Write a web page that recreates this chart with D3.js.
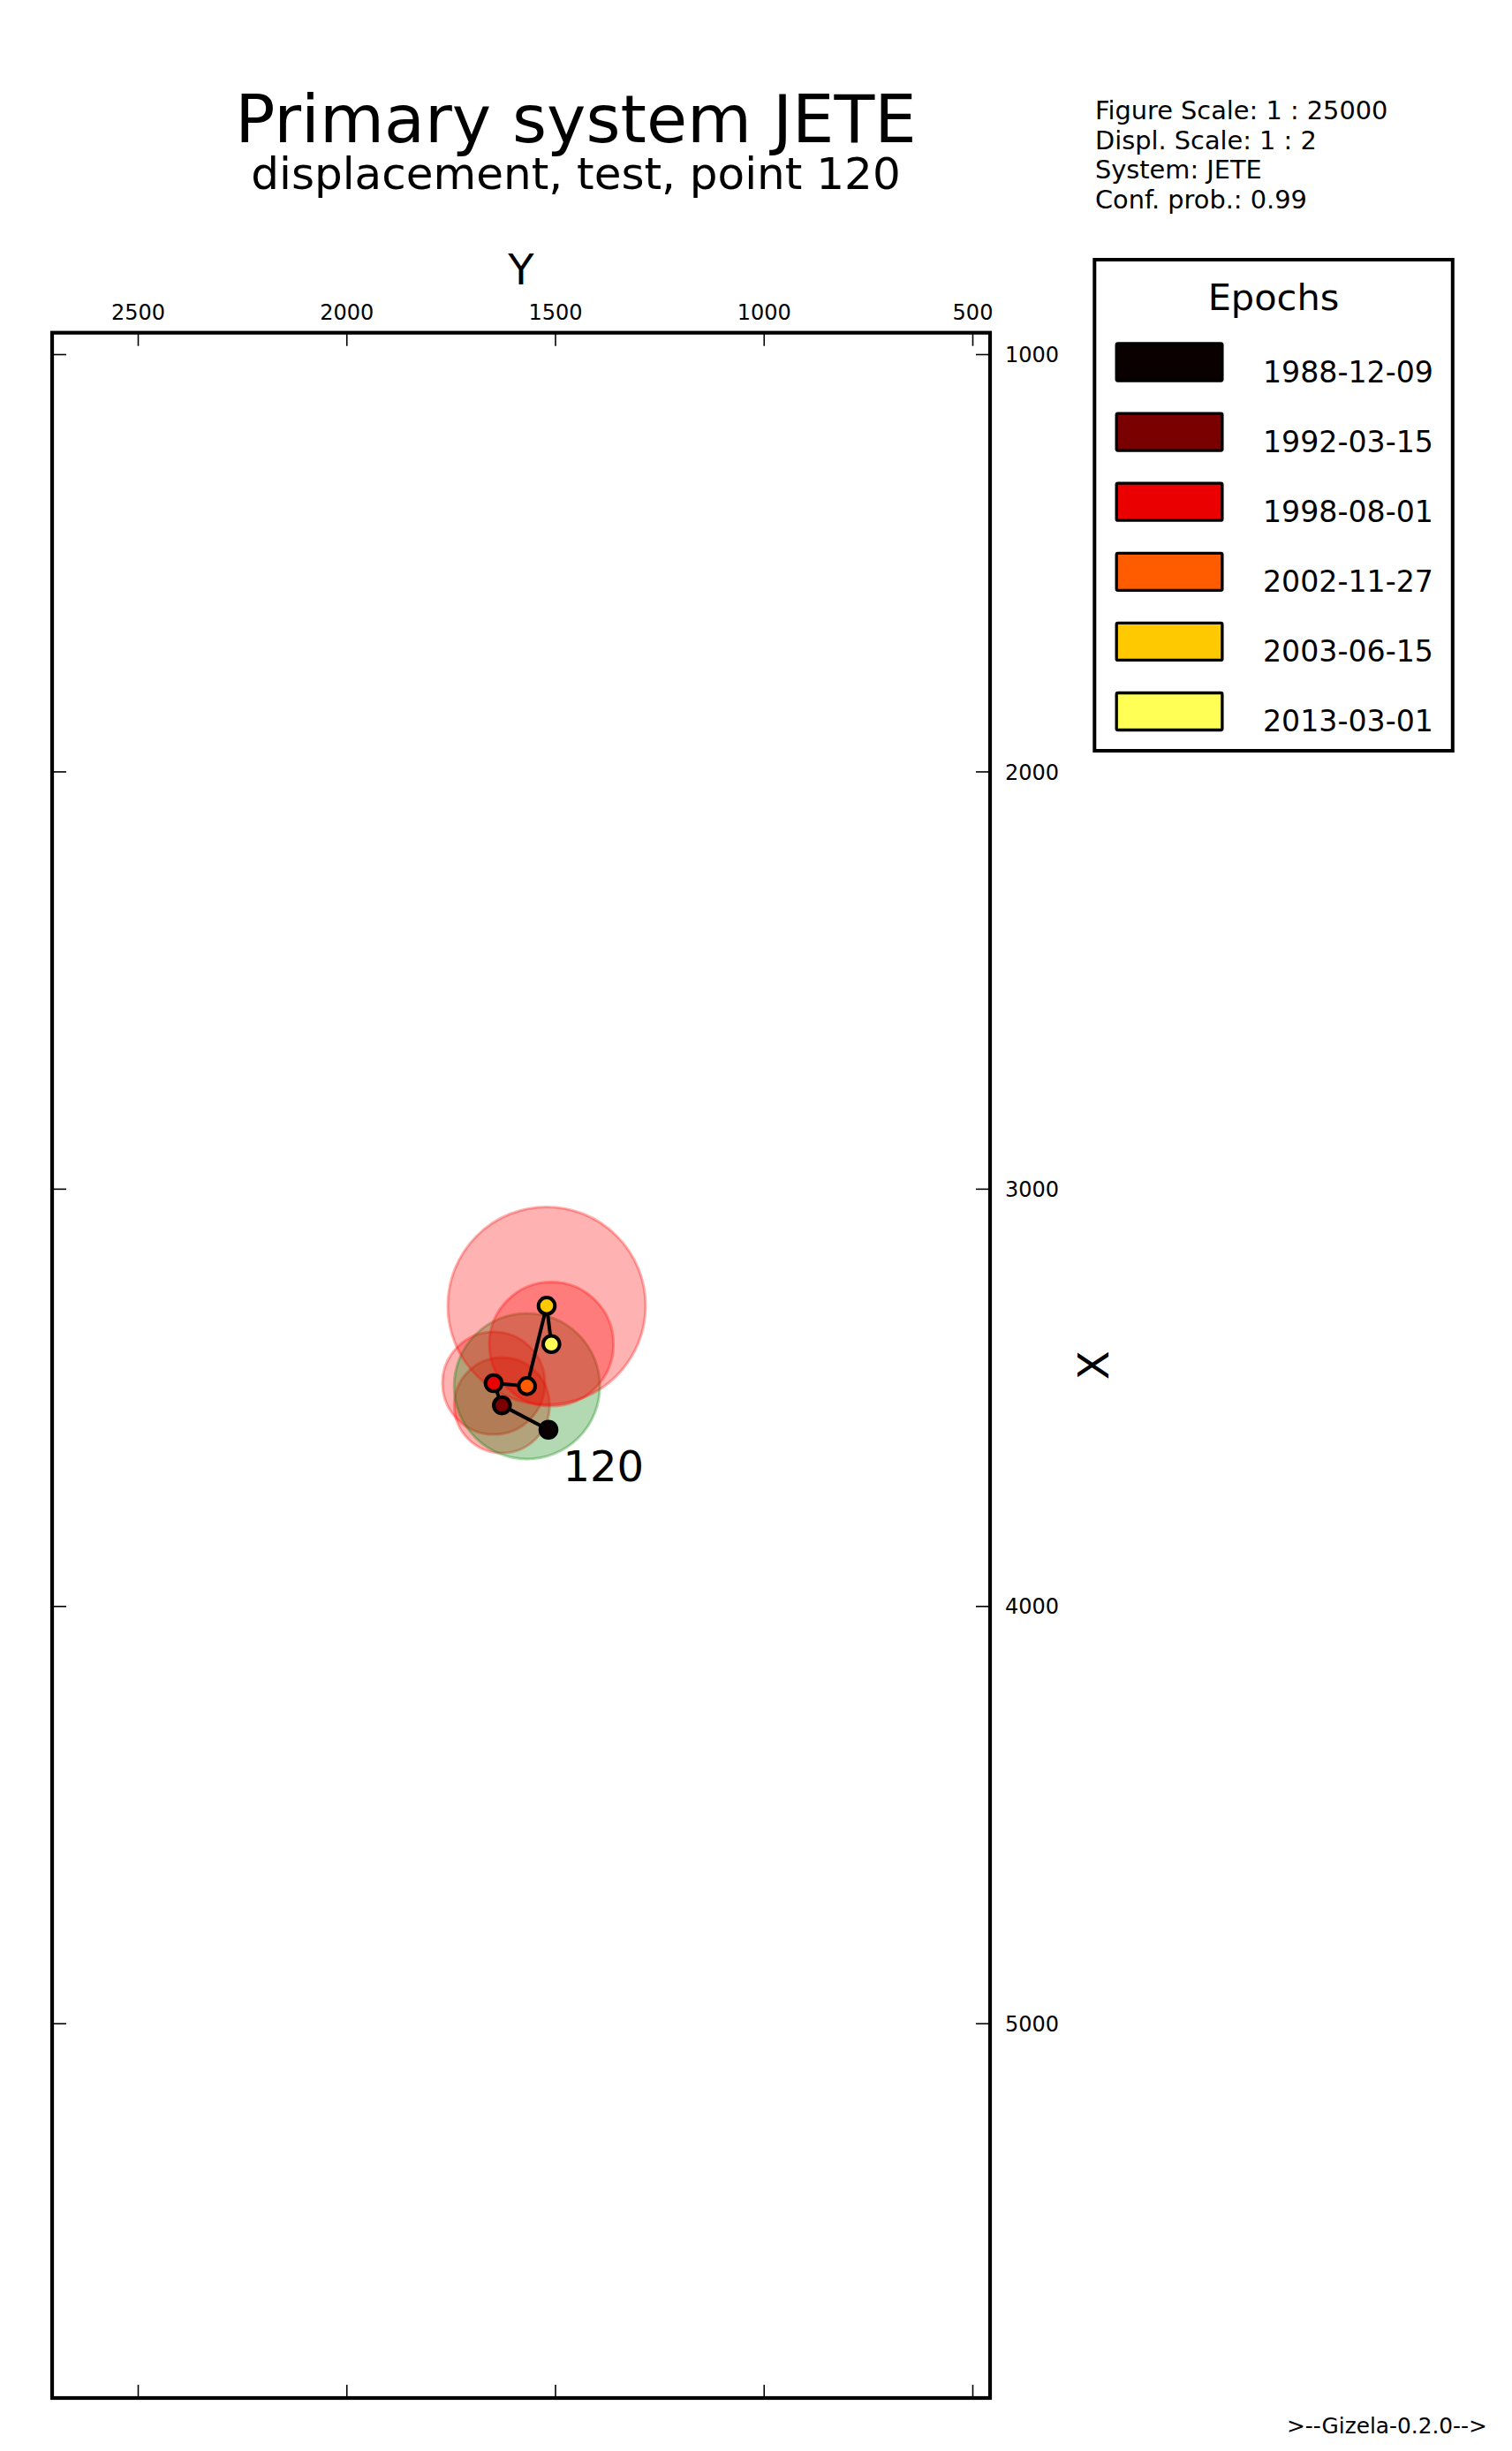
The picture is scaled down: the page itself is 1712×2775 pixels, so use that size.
<!DOCTYPE html>
<html>
<head>
<meta charset="utf-8">
<script src="https://cdn.jsdelivr.net/npm/d3@7/dist/d3.min.js"></script>
<style>
  html, body { margin: 0; padding: 0; background: #ffffff; }
  svg { display: block; }
  text { font-family: "DejaVu Sans", sans-serif; fill: #000; }
</style>
</head>
<body>
<script>
// ---------------- data ----------------
const epochs = ["1988-12-09", "1992-03-15", "1998-08-01", "2002-11-27", "2003-06-15", "2013-03-01"];
const epochColors = ["#0b0000", "#7a0000", "#ea0000", "#ff5c00", "#ffc900", "#ffff55"];
// plotted coordinates (Y horizontal, X vertical), exaggerated displacements
const pointY = [1515.9, 1627.4, 1647.1, 1567.3, 1520.1, 1508.9];
const pointX = [3577.7, 3519.1, 3466.1, 3473.1, 3280.5, 3372.4];
// confidence circle radii (plot units), 0 = none
const confRadius = [0, 114.3, 122.8, 174.6, 237.0, 148.8];
const confColor = ["none", "red", "red", "green", "red", "red"];
const yTicks = [2500, 2000, 1500, 1000, 500];
const xTicks = [1000, 2000, 3000, 4000, 5000];
const pointName = "120";
const titleText = "Primary system JETE";
const subtitleText = "displacement, test, point 120";
const infoLines = ["Figure Scale: 1 : 25000", "Displ. Scale: 1 : 2", "System: JETE", "Conf. prob.: 0.99"];
const footerText = ">--Gizela-0.2.0-->";

// ---------------- layout ----------------
const W = 1712, H = 2775;
const plot = { left: 59, right: 1121, top: 376.7, bottom: 2715 };

const svg = d3.select("body").append("svg")
  .attr("width", W).attr("height", H)
  .attr("viewBox", `0 0 ${W} ${H}`);

const xs = d3.scaleLinear().domain([2705.29, 457.67]).range([plot.left, plot.right]);
const ys = d3.scaleLinear().domain([948.6, 5898.0]).range([plot.top, plot.bottom]);

// titles
svg.append("text").attr("x", 652).attr("y", 161).attr("text-anchor", "middle")
  .style("font-size", "75px").text(titleText);
svg.append("text").attr("x", 652).attr("y", 214).attr("text-anchor", "middle")
  .style("font-size", "50px").text(subtitleText);

// info block
const info = svg.append("g");
infoLines.forEach((s, i) => {
  info.append("text").attr("x", 1240).attr("y", 135 + i * 33.5)
    .style("font-size", "28.8px").text(s);
});

// data layer (clipped)
svg.append("clipPath").attr("id", "clip").append("rect")
  .attr("x", plot.left).attr("y", plot.top)
  .attr("width", plot.right - plot.left).attr("height", plot.bottom - plot.top);
const layer = svg.append("g").attr("clip-path", "url(#clip)");

const colorMap = { red: "#ff0000", green: "#008000" };
const idx = d3.range(epochs.length);
layer.selectAll("circle.conf")
  .data(idx.filter(i => confRadius[i] > 0))
  .join("circle")
  .attr("class", "conf")
  .attr("cx", i => xs(pointY[i]))
  .attr("cy", i => ys(pointX[i]))
  .attr("r", i => Math.abs(xs(0) - xs(confRadius[i])))
  .attr("fill", i => colorMap[confColor[i]])
  .attr("fill-opacity", 0.3)
  .attr("stroke", i => colorMap[confColor[i]])
  .attr("stroke-opacity", 0.3)
  .attr("stroke-width", 3);

const line = d3.line().x(i => xs(pointY[i])).y(i => ys(pointX[i]));
layer.append("path").attr("d", line(idx))
  .attr("fill", "none").attr("stroke", "#000").attr("stroke-width", 4)
  .attr("stroke-linejoin", "round");

layer.selectAll("circle.pt").data(idx).join("circle")
  .attr("class", "pt")
  .attr("cx", i => xs(pointY[i]))
  .attr("cy", i => ys(pointX[i]))
  .attr("r", 9.3)
  .attr("fill", i => epochColors[i])
  .attr("stroke", "#000").attr("stroke-width", 4);

layer.append("text")
  .attr("x", xs(pointY[0]) + 16.5).attr("y", ys(pointX[0]) + 58)
  .style("font-size", "48px").text(pointName);

// axes
const axTop = d3.axisTop(xs).tickValues(yTicks).tickSizeInner(-15).tickSizeOuter(0).tickPadding(15)
  .tickFormat(d3.format("d"));
const axBottom = d3.axisBottom(xs).tickValues(yTicks).tickSizeInner(-15).tickSizeOuter(0).tickFormat("");
const axLeft = d3.axisLeft(ys).tickValues(xTicks).tickSizeInner(-16).tickSizeOuter(0).tickFormat("");
const axRight = d3.axisRight(ys).tickValues(xTicks).tickSizeInner(-16).tickSizeOuter(0).tickPadding(17)
  .tickFormat(d3.format("d"));

function styleAxis(g) {
  g.select(".domain").remove();
  g.selectAll(".tick line").attr("stroke", "#000").attr("stroke-width", 1.6);
  g.selectAll(".tick text").style("font-size", "24px").attr("fill", "#000")
    .style("font-family", '"DejaVu Sans", sans-serif');
}
svg.append("g").attr("transform", `translate(0,${plot.top})`).call(axTop).call(styleAxis);
svg.append("g").attr("transform", `translate(0,${plot.bottom})`).call(axBottom).call(styleAxis);
svg.append("g").attr("transform", `translate(${plot.left},0)`).call(axLeft).call(styleAxis);
const gr = svg.append("g").attr("transform", `translate(${plot.right},0)`).call(axRight).call(styleAxis);
gr.selectAll(".tick text").attr("dy", "0.36em");

// frame
svg.append("rect").attr("x", plot.left).attr("y", plot.top)
  .attr("width", plot.right - plot.left).attr("height", plot.bottom - plot.top)
  .attr("fill", "none").attr("stroke", "#000").attr("stroke-width", 4.2);

// axis labels
svg.append("text").attr("x", (plot.left + plot.right) / 2).attr("y", 321.7)
  .attr("text-anchor", "middle").style("font-size", "48px").text("Y");
svg.append("text")
  .attr("transform", `translate(1255,${(plot.top + plot.bottom) / 2}) rotate(-90)`)
  .attr("text-anchor", "middle").style("font-size", "48px").text("X");

// legend
const lg = svg.append("g");
lg.append("rect").attr("x", 1239.3).attr("y", 294).attr("width", 405.5).attr("height", 556)
  .attr("fill", "#fff").attr("stroke", "#000").attr("stroke-width", 4);
lg.append("text").attr("x", 1442).attr("y", 350.5).attr("text-anchor", "middle")
  .style("font-size", "41.5px").text("Epochs");
const rows = lg.selectAll("g.row").data(idx).join("g").attr("class", "row")
  .attr("transform", i => `translate(0,${i * 79.1})`);
rows.append("rect").attr("x", 1264.2).attr("y", 389).attr("width", 119.7).attr("height", 42)
  .attr("rx", 1.5)
  .attr("fill", i => epochColors[i]).attr("stroke", "#000").attr("stroke-width", 3.3);
rows.append("text").attr("x", 1430).attr("y", 432.5)
  .style("font-size", "33.2px").text(i => epochs[i]);

// footer
svg.append("text").attr("x", 1457).attr("y", 2755).style("font-size", "24.8px").text(footerText);
</script>
</body>
</html>
